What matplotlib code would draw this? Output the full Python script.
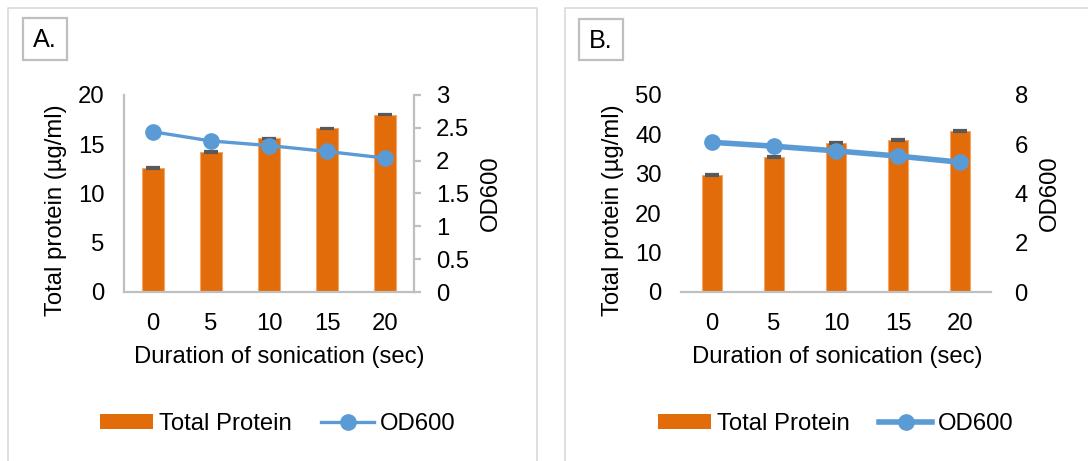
import matplotlib
matplotlib.use("Agg")
import matplotlib.pyplot as plt
from matplotlib.patches import Rectangle, Patch
from matplotlib.lines import Line2D

plt.rcParams['font.family'] = ['Liberation Sans', 'DejaVu Sans']

durations = ["0", "5", "10", "15", "20"]

# Panel A
protein_a = [12.6, 14.2, 15.6, 16.6, 18.0]
protein_err_a = [0.08, 0.08, 0.08, 0.08, 0.08]
od600_a = [2.44, 2.30, 2.23, 2.14, 2.04]

# Panel B
protein_b = [29.7, 34.2, 37.7, 38.6, 40.9]
protein_err_b = [0.25, 0.25, 0.25, 0.25, 0.25]
od600_b = [6.08, 5.92, 5.73, 5.52, 5.27]

ORANGE = "#E36C0A"
BLUE = "#5B9BD5"
GRID = "#BFBFBF"
FRAME = "#D9D9D9"
FS = 17.2

W, H = 1088, 461
fig = plt.figure(figsize=(W / 100, H / 100), dpi=100)


def fx(px):
    return px / W


def fy(py):
    return 1 - py / H


def add_rect(x0, y0, x1, y1, color, lw=1.2):
    fig.patches.append(Rectangle((fx(x0), fy(y1)), fx(x1 - x0), (y1 - y0) / H,
                                 transform=fig.transFigure, fill=False,
                                 edgecolor=color, linewidth=lw))


def add_line(xs, ys, color, lw=1.2):
    fig.lines.append(Line2D([fx(x) for x in xs], [fy(y) for y in ys],
                            transform=fig.transFigure, color=color, linewidth=lw))


def panel(left, right, top, bottom, protein, err, od, ymax, ystep, odmax, odstep,
          bar_width, line_w, spines_on, tag, tag_box, ylab_x, xlab_x, odlab_x,
          legend_x):
    ax = fig.add_axes([fx(left), fy(bottom), fx(right - left), (bottom - top) / H])
    x = list(range(len(durations)))
    ax.bar(x, protein, width=bar_width, color=ORANGE, edgecolor="#F2A66A",
           linewidth=0.8, zorder=2)
    ax.errorbar(x, protein, yerr=err, fmt="none", ecolor="#595959",
                elinewidth=1.0, capsize=5, capthick=1.6, zorder=3)
    ax.set_xlim(-0.5, len(durations) - 0.5)
    ax.set_ylim(0, ymax)
    ax.set_yticks([i * ystep for i in range(int(round(ymax / ystep)) + 1)])
    ax.set_xticks(x)
    ax.set_xticklabels(durations)
    ax.tick_params(axis="both", length=0, labelsize=FS, colors="black")
    ax.tick_params(axis="y", pad=14)
    ax.tick_params(axis="x", pad=15)
    for s in ["top", "right"]:
        ax.spines[s].set_visible(False)
    ax.spines["bottom"].set_color(GRID)
    ax.spines["bottom"].set_linewidth(1.6)
    ax.spines["left"].set_visible(spines_on)
    ax.spines["left"].set_color(GRID)
    ax.spines["left"].set_linewidth(1.6)
    ax.patch.set_alpha(0)

    ax2 = ax.twinx()
    line, = ax2.plot(x, od, color=BLUE, linewidth=line_w, marker="o",
                     markersize=11, zorder=4)
    ax2.set_ylim(0, odmax)
    n = int(round(odmax / odstep))
    ticks = [i * odstep for i in range(n + 1)]
    ax2.set_yticks(ticks)
    ax2.set_yticklabels([f"{t:g}" for t in ticks])
    for s in ["top", "left", "bottom"]:
        ax2.spines[s].set_visible(False)
    ax2.spines["right"].set_visible(spines_on)
    ax2.spines["right"].set_color(GRID)
    ax2.spines["right"].set_linewidth(1.6)
    if spines_on:
        ax2.tick_params(axis="y", length=5, width=1.6, color=GRID, direction="out",
                        labelsize=FS, pad=11)
    else:
        ax2.tick_params(axis="y", length=0, labelsize=FS, pad=17)

    fig.text(fx(ylab_x), fy(210), "Total protein (µg/ml)", rotation=90,
             ha="center", va="center", fontsize=FS)
    fig.text(fx(xlab_x), fy(357), "Duration of sonication (sec)",
             ha="center", va="center", fontsize=FS)
    fig.text(fx(odlab_x), fy(193.5), "OD600", rotation=90,
             ha="center", va="center", fontsize=FS)

    bx0, by0, bx1, by1 = tag_box
    add_rect(bx0, by0, bx1, by1, "#BFBFBF", lw=1.6)
    fig.text(fx((bx0 + bx1) / 2), fy((by0 + by1) / 2 + 1), tag,
             ha="center", va="center", fontsize=FS + 1)

    bar_handle = Patch(facecolor=ORANGE, edgecolor="none")
    fig.legend([bar_handle, line], ["Total Protein", "OD600"], ncol=2, frameon=False,
               loc="center", bbox_to_anchor=(fx(legend_x), fy(424)),
               fontsize=FS, handlelength=2.2, handleheight=0.55,
               handletextpad=0.25, columnspacing=1.25, borderpad=0)


panel(124, 414, 95, 292, protein_a, protein_err_a, od600_a, 20, 5, 3, 0.5,
      0.39, 2.4, True, "A.", (23, 18, 67, 60), 56, 279, 491, 278)
panel(681, 991, 95, 292, protein_b, protein_err_b, od600_b, 50, 10, 8, 2,
      0.31, 4.0, False, "B.", (579, 19, 623, 60), 613, 837, 1050, 836)

# Panel frames
add_line([7.5, 7.5, 537, 537], [470, 8, 8, 470], FRAME, lw=1.2)
add_line([565, 565, 1100], [470, 8, 8], FRAME, lw=1.2)

fig.savefig("out.png", dpi=100)
